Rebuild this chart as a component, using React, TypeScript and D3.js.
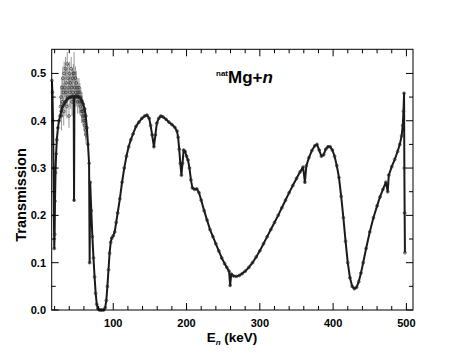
import React from "react";
import * as d3 from "d3";

// Main transmission curve (E in keV, T)
const curveE = [16.3,17.0,17.8,18.5,19.0,19.5,20.0,20.5,21.2,22.0,23.0,24.5,26.0,27.5,29.0,31.0,33.0,35.0,37.0,39.0,41.0,43.0,45.0,46.0,46.5,47.0,49.0,51.0,53.0,55.0,57.0,59.0,61.0,62.5,64.0,65.5,67.0,67.8,68.5,70.0,71.5,73.0,74.5,76.0,77.5,79.0,81.0,83.0,85.0,87.0,89.0,90.5,92.0,93.5,95.0,96.5,98.0,100.0,102.0,104.0,106.0,109.0,112.0,115.0,118.0,121.0,124.0,127.0,131.0,135.0,139.0,143.0,146.0,149.0,151.0,153.0,155.5,157.5,159.5,162.0,165.0,168.0,172.0,176.0,180.0,184.0,187.0,188.5,190.0,191.5,193.0,194.5,196.0,198.0,200.0,202.0,204.0,206.0,208.0,211.0,214.0,217.0,220.0,224.0,228.0,232.0,236.0,240.0,244.0,248.0,252.0,255.0,258.0,259.5,261.0,264.0,268.0,272.0,276.0,280.0,285.0,290.0,295.0,300.0,305.0,310.0,315.0,320.0,325.0,330.0,335.0,340.0,345.0,350.0,355.0,359.0,361.5,363.5,367.0,371.0,375.0,378.0,381.0,384.0,387.0,390.0,393.0,396.0,399.0,402.0,405.0,408.0,411.0,414.0,417.0,420.0,423.0,426.0,429.0,432.0,435.0,438.0,441.0,445.0,450.0,455.0,460.0,464.0,468.0,472.0,474.5,476.0,480.0,484.0,488.0,491.0,493.5,495.0,496.0,496.8,497.2,497.6,498.0];
const curveT = [0.485,0.46,0.40,0.30,0.20,0.13,0.16,0.23,0.29,0.33,0.36,0.385,0.40,0.41,0.42,0.43,0.435,0.44,0.445,0.448,0.45,0.45,0.452,0.45,0.232,0.45,0.452,0.452,0.45,0.448,0.443,0.435,0.425,0.41,0.385,0.35,0.31,0.10,0.27,0.21,0.155,0.11,0.07,0.035,0.012,0.003,0.0,0.0,0.0,0.0,0.005,0.02,0.05,0.085,0.12,0.143,0.152,0.157,0.165,0.185,0.205,0.235,0.27,0.30,0.325,0.345,0.36,0.372,0.388,0.397,0.405,0.41,0.412,0.405,0.39,0.37,0.345,0.37,0.395,0.405,0.41,0.408,0.403,0.397,0.392,0.386,0.378,0.365,0.34,0.31,0.285,0.31,0.338,0.335,0.325,0.317,0.30,0.275,0.258,0.255,0.256,0.248,0.232,0.21,0.19,0.17,0.155,0.14,0.125,0.11,0.098,0.09,0.082,0.052,0.076,0.072,0.071,0.073,0.077,0.082,0.09,0.1,0.112,0.125,0.14,0.155,0.17,0.185,0.2,0.216,0.232,0.248,0.263,0.278,0.292,0.302,0.27,0.305,0.322,0.337,0.347,0.35,0.338,0.325,0.328,0.34,0.345,0.345,0.338,0.325,0.305,0.28,0.24,0.195,0.145,0.1,0.068,0.05,0.045,0.048,0.06,0.078,0.1,0.13,0.165,0.195,0.22,0.239,0.255,0.27,0.25,0.285,0.303,0.318,0.335,0.35,0.368,0.39,0.42,0.458,0.30,0.205,0.121];

// Noisy low-energy data points with error bars
const scatterE = [28.0,28.7,29.3,30.0,30.6,31.2,31.8,32.4,33.0,33.6,34.2,34.8,35.4,36.0,36.6,37.2,37.8,38.4,39.0,39.6,40.2,40.8,41.4,42.0,42.6,43.2,43.8,44.4,45.0,45.6,46.5,47.2,47.8,48.4,49.0,49.6,50.2,50.8,51.4,52.0,52.6,53.2,53.8,54.4,55.0,55.6,56.2,56.8,57.4,58.0,58.6,59.2,59.8,60.4,61.0,61.6,62.2,62.8];
const scatterT = [0.43,0.45,0.41,0.47,0.44,0.49,0.46,0.42,0.50,0.47,0.44,0.51,0.46,0.48,0.43,0.52,0.45,0.49,0.47,0.41,0.50,0.46,0.48,0.45,0.51,0.47,0.44,0.49,0.46,0.50,0.50,0.47,0.45,0.49,0.46,0.48,0.45,0.47,0.44,0.46,0.45,0.47,0.44,0.46,0.43,0.45,0.44,0.42,0.44,0.42,0.41,0.42,0.40,0.41,0.39,0.40,0.38,0.37];
const scatterErr = [0.02,0.025,0.03,0.02,0.03,0.025,0.02,0.03,0.025,0.02,0.03,0.025,0.02,0.03,0.025,0.025,0.02,0.03,0.02,0.025,0.025,0.03,0.02,0.025,0.025,0.02,0.03,0.02,0.025,0.02,0.045,0.025,0.02,0.025,0.02,0.025,0.02,0.02,0.025,0.02,0.02,0.02,0.025,0.02,0.02,0.02,0.02,0.025,0.02,0.02,0.02,0.02,0.02,0.02,0.02,0.02,0.02,0.02];

const xMajor = [100, 200, 300, 400, 500];
const yMajor = [0.0, 0.1, 0.2, 0.3, 0.4, 0.5];
const yLabels = ["0.0", "0.1", "0.2", "0.3", "0.4", "0.5"];

const FONT = "'Liberation Sans', Arial, Helvetica, sans-serif";

export default function App() {
  const left = 51.7, right = 413, top = 49.3, bottom = 310;
  const x = d3.scaleLinear().domain([16, 509]).range([left, right]);
  const y = d3.scaleLinear().domain([0, 0.551]).range([bottom, top]);

  const xMinor = d3.range(20, 509, 20).filter((v) => v % 100 !== 0);
  const yMinor = d3.range(0.05, 0.55, 0.1);

  const pts = curveE.map((e, i) => [e, curveT[i]] as [number, number]);
  const line = d3.line<[number, number]>().x((d) => x(d[0])).y((d) => y(d[1]));

  const major = 7, minor = 4;

  return (
    <svg width={463} height={358} style={{ position: "absolute", left: 0, top: 0, background: "#fff" }} fontFamily={FONT}>
      <rect x={0} y={0} width={463} height={358} fill="#fff" />
      {/* scatter error bars */}
      <g stroke="#8a8a8a" strokeWidth={0.9}>
        {scatterE.map((e, i) => (
          <line key={i} x1={x(e)} x2={x(e)} y1={y(scatterT[i] - scatterErr[i])} y2={y(scatterT[i] + scatterErr[i])} />
        ))}
      </g>
      <g fill="none" stroke="#333" strokeWidth={0.7}>
        {scatterE.map((e, i) => (
          <circle key={i} cx={x(e)} cy={y(scatterT[i])} r={1.4} />
        ))}
      </g>
      {/* main curve */}
      <path d={line(pts) || ""} fill="none" stroke="#1a1a1a" strokeWidth={2} strokeLinejoin="round" />
      <g fill="none" stroke="#222" strokeWidth={0.7}>
        {pts.map((p, i) => (
          <circle key={i} cx={x(p[0])} cy={y(p[1])} r={1.4} />
        ))}
      </g>
      {/* frame */}
      <rect x={left} y={top} width={right - left} height={bottom - top} fill="none" stroke="#000" strokeWidth={1} />
      {/* ticks */}
      <g stroke="#000" strokeWidth={1}>
        {xMajor.map((v) => (
          <g key={"xm" + v}>
            <line x1={x(v)} x2={x(v)} y1={bottom} y2={bottom - major} />
            <line x1={x(v)} x2={x(v)} y1={top} y2={top + major} />
          </g>
        ))}
        {xMinor.map((v) => (
          <g key={"xn" + v}>
            <line x1={x(v)} x2={x(v)} y1={bottom} y2={bottom - minor} />
            <line x1={x(v)} x2={x(v)} y1={top} y2={top + minor} />
          </g>
        ))}
        {yMajor.map((v) => (
          <g key={"ym" + v}>
            <line x1={left} x2={left + major} y1={y(v)} y2={y(v)} />
            <line x1={right} x2={right - major} y1={y(v)} y2={y(v)} />
          </g>
        ))}
        {yMinor.map((v) => (
          <g key={"yn" + v}>
            <line x1={left} x2={left + minor} y1={y(v)} y2={y(v)} />
            <line x1={right} x2={right - minor} y1={y(v)} y2={y(v)} />
          </g>
        ))}
      </g>
      {/* tick labels */}
      <g fontSize={11} fontWeight="bold" fill="#000">
        {xMajor.map((v) => (
          <text key={"xl" + v} x={x(v)} y={326.5} textAnchor="middle">{v}</text>
        ))}
        {yMajor.map((v, i) => (
          <text key={"yl" + v} x={46} y={y(v)} dy="0.36em" textAnchor="end">{yLabels[i]}</text>
        ))}
      </g>
      {/* axis titles */}
      <text x={232} y={341.5} textAnchor="middle" fontSize={13.5} fontWeight="bold">
        <tspan>E</tspan>
        <tspan fontSize={8} fontStyle="italic" dy={3}>n</tspan>
        <tspan dy={-3}> (keV)</tspan>
      </text>
      <text transform="translate(26,195) rotate(-90)" textAnchor="middle" fontSize={14.5} fontWeight="bold">Transmission</text>
      {/* annotation */}
      <text x={216} y={83} fontWeight="bold" fontSize={17}>
        <tspan fontSize={8} dy={-7}>nat</tspan>
        <tspan dy={7}>Mg+</tspan>
        <tspan fontStyle="italic">n</tspan>
      </text>
    </svg>
  );
}
